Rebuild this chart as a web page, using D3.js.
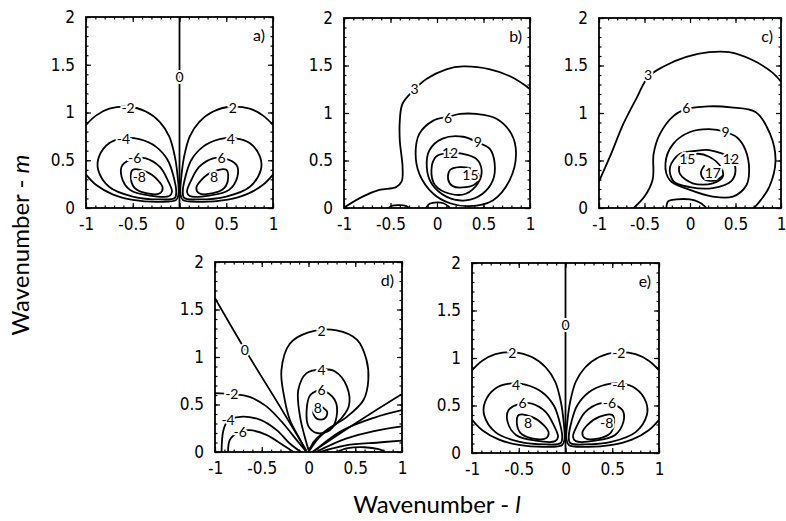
<!DOCTYPE html>
<html>
<head>
<meta charset="utf-8">
<script src="https://cdn.jsdelivr.net/npm/d3@7"></script>
<style>
  body { margin: 0; background: #fff; }
  .tick text { font-family: "DejaVu Sans Condensed", "Liberation Sans Narrow", Lato, sans-serif; font-stretch: condensed; font-size: 17px; fill: #000; }
  .clabel { font-family: Lato, "Liberation Sans", sans-serif; font-size: 14px; }
  .title { font-family: Lato, "Liberation Sans", sans-serif; font-size: 24px; }
</style>
</head>
<body>
<svg id="fig" width="786" height="521"></svg>
<script>
// tick values for wavenumber l (x) and m (y)
const lTicks = [-1, -0.5, 0, 0.5, 1];
const mTicks = [0, 0.5, 1, 1.5, 2];

// ---- panels a) and e): antisymmetric lobes (digitised, [l, m]) ----
const zeroLine = [[0, 0], [0, 2]];
const lobeL2 = [[-1, 0.87], [-0.89, 0.97], [-0.75, 1.04], [-0.55, 1.06], [-0.36, 1.01], [-0.21, 0.90], [-0.11, 0.75], [-0.05, 0.54], [-0.02, 0.33], [-0.01, 0.15], [-0.035, 0.085], [-0.21, 0.065], [-0.5, 0.085], [-0.71, 0.14], [-0.89, 0.24], [-1, 0.35]];
const lobeL4 = [[-0.43, 0.72], [-0.25, 0.64], [-0.125, 0.50], [-0.064, 0.33], [-0.035, 0.17], [-0.05, 0.105], [-0.21, 0.09], [-0.5, 0.12], [-0.75, 0.22], [-0.87, 0.40], [-0.86, 0.54], [-0.75, 0.68], [-0.6, 0.73]];
const lobeL6 = [[-0.48, 0.52], [-0.36, 0.52], [-0.21, 0.43], [-0.125, 0.29], [-0.08, 0.17], [-0.11, 0.125], [-0.32, 0.13], [-0.53, 0.19], [-0.62, 0.33], [-0.61, 0.45]];
const lobeL8 = [[-0.5, 0.40], [-0.36, 0.38], [-0.23, 0.29], [-0.18, 0.21], [-0.21, 0.155], [-0.36, 0.155], [-0.48, 0.21], [-0.52, 0.31]];
const lobeR2 = [[1, 0.87], [0.89, 0.97], [0.75, 1.04], [0.55, 1.06], [0.36, 1.01], [0.21, 0.90], [0.11, 0.75], [0.05, 0.54], [0.02, 0.33], [0.01, 0.15], [0.035, 0.085], [0.21, 0.065], [0.5, 0.085], [0.71, 0.14], [0.89, 0.24], [1, 0.35]];
const lobeR4 = [[0.43, 0.72], [0.25, 0.64], [0.125, 0.50], [0.064, 0.33], [0.035, 0.17], [0.05, 0.105], [0.21, 0.09], [0.5, 0.12], [0.75, 0.22], [0.87, 0.40], [0.86, 0.54], [0.75, 0.68], [0.6, 0.73]];
const lobeR6 = [[0.48, 0.52], [0.36, 0.52], [0.21, 0.43], [0.125, 0.29], [0.08, 0.17], [0.11, 0.125], [0.32, 0.13], [0.53, 0.19], [0.62, 0.33], [0.61, 0.45]];
const lobeR8 = [[0.5, 0.40], [0.36, 0.38], [0.23, 0.29], [0.18, 0.21], [0.21, 0.155], [0.36, 0.155], [0.48, 0.21], [0.52, 0.31]];
const labelsA = [["0", 0, 1.37], ["-2", -0.55, 1.05], ["-4", -0.6, 0.72], ["-6", -0.48, 0.52], ["-8", -0.43, 0.32],
                 ["2", 0.57, 1.05], ["4", 0.55, 0.72], ["6", 0.45, 0.52], ["8", 0.37, 0.32]];
const labelsE = [["0", 0, 1.35], ["2", -0.57, 1.05], ["4", -0.53, 0.71], ["6", -0.46, 0.53], ["8", -0.40, 0.32],
                 ["-2", 0.57, 1.05], ["-4", 0.57, 0.71], ["-6", 0.47, 0.53], ["-8", 0.44, 0.32]];

// ---- panel b) ----
const b3 = [[-0.99, 0.01], [-0.80, 0.12], [-0.62, 0.19], [-0.44, 0.22], [-0.38, 0.28], [-0.37, 0.43], [-0.40, 0.71], [-0.40, 0.92], [-0.37, 1.10], [-0.24, 1.25], [-0.11, 1.36], [0.10, 1.46], [0.28, 1.49], [0.57, 1.46], [0.78, 1.39], [0.95, 1.29], [1.0, 1.25]];
const b3bump = [[-0.52, 0], [-0.48, 0.025], [-0.4, 0.03], [-0.33, 0.02], [-0.3, 0]];
const b6bump = [[-0.12, 0], [-0.08, 0.045], [0, 0.06], [0.07, 0.05], [0.12, 0.02], [0.14, 0]];
const b6 = [[0.12, 0.96], [-0.04, 0.92], [-0.19, 0.78], [-0.23, 0.57], [-0.19, 0.36], [-0.04, 0.15], [0.14, 0.05], [0.35, 0.02], [0.6, 0.08], [0.78, 0.29], [0.85, 0.57], [0.80, 0.78], [0.64, 0.94], [0.42, 0.99], [0.25, 0.99]];
const b9 = [[0.44, 0.69], [0.28, 0.75], [0.06, 0.73], [-0.08, 0.61], [-0.11, 0.43], [-0.06, 0.26], [0.10, 0.12], [0.31, 0.08], [0.49, 0.15], [0.60, 0.29], [0.62, 0.47], [0.57, 0.62]];
const b12 = [[0.14, 0.58], [-0.01, 0.54], [-0.06, 0.40], [-0.02, 0.24], [0.14, 0.15], [0.31, 0.15], [0.44, 0.26], [0.48, 0.40], [0.42, 0.52], [0.28, 0.57]];
const b15 = [[0.24, 0.43], [0.14, 0.40], [0.12, 0.30], [0.17, 0.23], [0.31, 0.22], [0.42, 0.26], [0.45, 0.34], [0.38, 0.41]];
const labelsB = [["3", -0.24, 1.25], ["6", 0.12, 0.95], ["9", 0.44, 0.69], ["12", 0.14, 0.58], ["15", 0.36, 0.35]];

// ---- panel c) ----
const c3 = [[-1, 0.28], [-0.88, 0.54], [-0.73, 0.89], [-0.58, 1.17], [-0.46, 1.38], [-0.29, 1.49], [-0.04, 1.59], [0.21, 1.64], [0.43, 1.64], [0.68, 1.56], [0.90, 1.43], [1.0, 1.33]];
const c6 = [[-0.62, 0], [-0.5, 0.12], [-0.41, 0.3], [-0.40, 0.57], [-0.33, 0.78], [-0.18, 0.97], [-0.04, 1.04], [0.2, 1.07], [0.45, 1.06], [0.72, 1.01], [0.88, 0.78], [0.94, 0.50], [0.87, 0.22], [0.75, 0.05], [0.7, 0]];
const c9 = [[0.39, 0.80], [0.21, 0.83], [0, 0.80], [-0.18, 0.68], [-0.27, 0.47], [-0.22, 0.29], [0, 0.19], [0.25, 0.12], [0.47, 0.12], [0.62, 0.24], [0.65, 0.40], [0.61, 0.61], [0.52, 0.74]];
const c12 = [[0.45, 0.52], [0.21, 0.61], [0.05, 0.6], [-0.11, 0.57], [-0.22, 0.43], [-0.18, 0.28], [0, 0.22], [0.25, 0.21], [0.45, 0.28], [0.50, 0.40]];
const c15 = [[-0.05, 0.52], [0.07, 0.57], [0.21, 0.54], [0.34, 0.43], [0.36, 0.33], [0.25, 0.26], [0.03, 0.26], [-0.11, 0.36], [-0.11, 0.46]];
const c17 = [[0.16, 0.45], [0.12, 0.37], [0.16, 0.30], [0.28, 0.29], [0.36, 0.34]];
const cBump = [[-0.26, 0], [-0.24, 0.07], [-0.15, 0.09], [0.0, 0.09], [0.1, 0.06], [0.16, 0.02], [0.18, 0]];
const labelsC = [["3", -0.46, 1.40], ["6", -0.04, 1.05], ["9", 0.39, 0.80], ["12", 0.45, 0.52], ["15", -0.03, 0.52], ["17", 0.25, 0.37]];

// ---- panel d) ----
const d0left = [[-1, 1.62], [-0.68, 1.08], [-0.3, 0.47], [-0.02, 0.01]];
const d0right = [[0.04, 0], [0.5, 0.3], [1, 0.61]];
const dm2 = [[-1, 0.62], [-0.82, 0.61], [-0.63, 0.58], [-0.45, 0.48], [-0.27, 0.30], [-0.13, 0.13], [-0.03, 0.01]];
const dm4 = [[-0.93, 0], [-0.91, 0.23], [-0.86, 0.33], [-0.73, 0.37], [-0.52, 0.34], [-0.34, 0.23], [-0.20, 0.09], [-0.08, 0]];
const dm6 = [[-0.86, 0], [-0.84, 0.13], [-0.74, 0.21], [-0.63, 0.23], [-0.45, 0.18], [-0.27, 0.07], [-0.16, 0]];
const dp2 = [[-0.03, 0.01], [-0.09, 0.13], [-0.2, 0.34], [-0.26, 0.58], [-0.29, 0.86], [-0.2, 1.14], [0, 1.26], [0.30, 1.28], [0.52, 1.18], [0.62, 0.97], [0.64, 0.76], [0.59, 0.55], [0.41, 0.37], [0.19, 0.23], [0.05, 0.1], [0.01, 0.01]];
const dp4 = [[0, 0.02], [-0.04, 0.16], [-0.09, 0.37], [-0.11, 0.65], [-0.02, 0.83], [0.14, 0.87], [0.28, 0.85], [0.41, 0.69], [0.43, 0.48], [0.30, 0.30], [0.12, 0.16], [0.02, 0.03]];
const dp6 = [[0.14, 0.65], [0.02, 0.6], [-0.02, 0.44], [0, 0.27], [0.09, 0.20], [0.23, 0.23], [0.30, 0.37], [0.28, 0.55]];
const dp8 = [[0.1, 0.49], [0.05, 0.42], [0.09, 0.35], [0.17, 0.35], [0.2, 0.42]];
const dn2r = [[0.05, 0], [0.35, 0.22], [0.7, 0.36], [1, 0.44]];
const dn4r = [[0.08, 0], [0.4, 0.14], [0.7, 0.22], [1, 0.27]];
const dn6r = [[0.12, 0], [0.4, 0.07], [0.75, 0.1], [1, 0.12]];
const dn8r = [[0.3, 0], [0.42, 0.04], [0.6, 0.05], [0.75, 0.03], [0.82, 0]];
const labelsD = [["0", -0.68, 1.07], ["2", 0.14, 1.27], ["4", 0.14, 0.86], ["6", 0.14, 0.65], ["8", 0.1, 0.46],
                 ["-2", -0.82, 0.61], ["-4", -0.86, 0.34], ["-6", -0.73, 0.21]];

const panels = [
  { tag: "a)", box: [86, 17, 273, 208], labels: labelsA,
    lines: [zeroLine, lobeL2, lobeR2], loops: [lobeL4, lobeL6, lobeL8, lobeR4, lobeR6, lobeR8] },
  { tag: "b)", box: [344, 18, 530, 208], labels: labelsB,
    lines: [b3, b3bump, b6bump], loops: [b6, b9, b12, b15] },
  { tag: "c)", box: [599, 18, 781, 208], labels: labelsC,
    lines: [c3, c6, c17, cBump], loops: [c9, c12, c15] },
  { tag: "d)", box: [215, 262, 402, 452], labels: labelsD,
    lines: [d0left, d0right, dm2, dm4, dm6, dp2, dp4, dn2r, dn4r, dn6r, dn8r], loops: [dp6, dp8] },
  { tag: "e)", box: [472, 263, 659, 453], labels: labelsE,
    lines: [zeroLine, lobeL2, lobeR2], loops: [lobeL4, lobeL6, lobeL8, lobeR4, lobeR6, lobeR8] }
];

const svg = d3.select("#fig");

function drawPanel(p, i) {
  const [x0, y0, x1, y1] = p.box;
  const x = d3.scaleLinear().domain([-1, 1]).range([x0, x1]);
  const y = d3.scaleLinear().domain([0, 2]).range([y1, y0]);
  const g = svg.append("g");

  g.append("clipPath").attr("id", "clip" + i)
    .append("rect").attr("x", x0).attr("y", y0).attr("width", x1 - x0).attr("height", y1 - y0);

  const open = d3.line().x(d => x(d[0])).y(d => y(d[1])).curve(d3.curveCatmullRom.alpha(0.5));
  const closed = d3.line().x(d => x(d[0])).y(d => y(d[1])).curve(d3.curveCatmullRomClosed.alpha(0.5));

  const c = g.append("g").attr("clip-path", `url(#clip${i})`)
    .attr("fill", "none").attr("stroke", "#000").attr("stroke-width", 1.8);
  p.lines.forEach(pts => c.append("path").attr("d", open(pts)));
  p.loops.forEach(pts => c.append("path").attr("d", closed(pts)));

  // contour labels with white halo to break the line
  g.selectAll(".clabel").data(p.labels).join("text")
    .attr("class", "clabel")
    .attr("x", d => x(d[1])).attr("y", d => y(d[2]))
    .attr("text-anchor", "middle").attr("dy", "0.35em")
    .attr("stroke", "#fff").attr("stroke-width", 4).attr("paint-order", "stroke")
    .attr("fill", "#000")
    .text(d => d[0]);

  // axes, ticks inward on all four sides
  const minorL = d3.range(-10, 11).map(v => v / 10);
  const minorM = d3.range(0, 21).map(v => v / 10);
  const fmt = d => String(d);
  const put = (axis, tx, ty) => {
    const a = g.append("g").attr("transform", `translate(${tx},${ty})`).call(axis);
    a.select(".domain").remove();
    a.selectAll(".tick line").attr("stroke", "#000").attr("stroke-width", 1.2);
    return a;
  };
  put(d3.axisBottom(x).tickValues(lTicks).tickSizeInner(-5).tickPadding(10).tickFormat(fmt), 0, y1);
  put(d3.axisBottom(x).tickValues(minorL).tickSizeInner(-2.5).tickFormat(""), 0, y1);
  put(d3.axisTop(x).tickValues(lTicks).tickSizeInner(-5).tickFormat(""), 0, y0);
  put(d3.axisTop(x).tickValues(minorL).tickSizeInner(-2.5).tickFormat(""), 0, y0);
  put(d3.axisLeft(y).tickValues(mTicks).tickSizeInner(-5).tickPadding(11).tickFormat(fmt), x0, 0);
  put(d3.axisLeft(y).tickValues(minorM).tickSizeInner(-2.5).tickFormat(""), x0, 0);
  put(d3.axisRight(y).tickValues(mTicks).tickSizeInner(-5).tickFormat(""), x1, 0);
  put(d3.axisRight(y).tickValues(minorM).tickSizeInner(-2.5).tickFormat(""), x1, 0);

  g.append("rect").attr("x", x0).attr("y", y0).attr("width", x1 - x0).attr("height", y1 - y0)
    .attr("fill", "none").attr("stroke", "#000").attr("stroke-width", 1.8);

  g.append("text").attr("class", "clabel").attr("x", x1 - 8).attr("y", y0 + 24)
    .attr("text-anchor", "end").style("font-size", "16px").text(p.tag);
}

panels.forEach(drawPanel);

// shared axis titles
const yt = svg.append("text").attr("class", "title")
  .attr("transform", "translate(29,245) rotate(-90)").attr("text-anchor", "middle");
yt.append("tspan").text("Wavenumber - ");
yt.append("tspan").attr("font-style", "italic").text("m");

const xt = svg.append("text").attr("class", "title")
  .attr("x", 437).attr("y", 513).attr("text-anchor", "middle");
xt.append("tspan").text("Wavenumber - ");
xt.append("tspan").attr("font-style", "italic").text("l");
</script>
</body>
</html>
